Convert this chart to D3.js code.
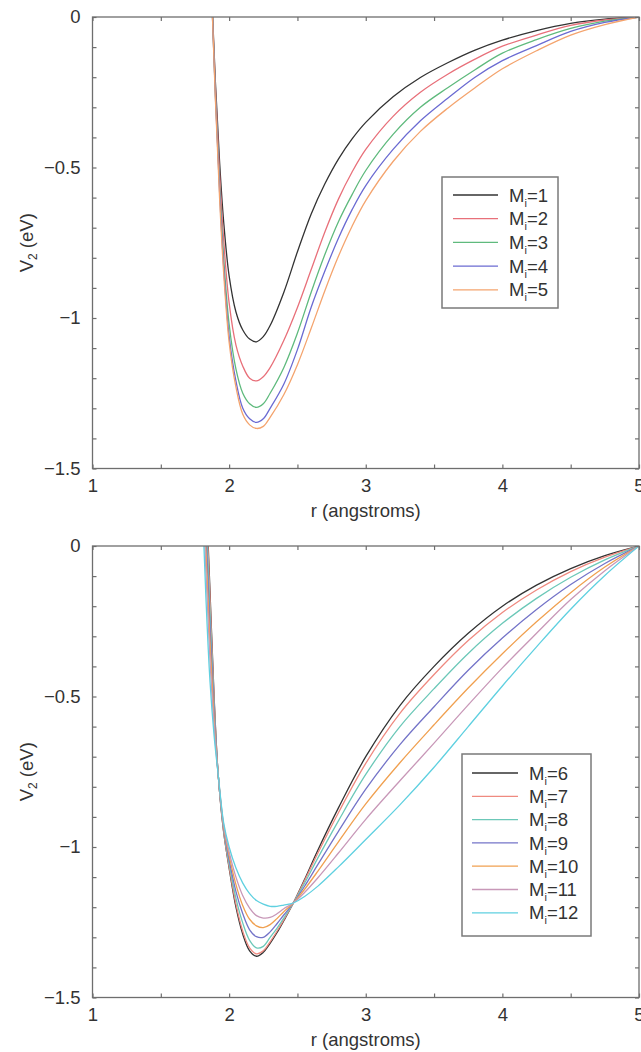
<!DOCTYPE html>
<html>
<head>
<meta charset="utf-8">
<script src="https://cdn.jsdelivr.net/npm/d3@7"></script>
<style>
  html, body { margin: 0; padding: 0; background: #fff; }
  svg { display: block; }
  text { font-family: "Liberation Sans", Arial, Helvetica, sans-serif; fill: #333; }
</style>
</head>
<body>
<div id="chart"></div>
<script>
// ---------------- DATA ----------------
const xTickValues = [1, 1.5, 2, 2.5, 3, 3.5, 4, 4.5, 5];
const xTickLabels = ["1", "", "2", "", "3", "", "4", "", "5"];
const yTickValues = [0, -0.1, -0.2, -0.3, -0.4, -0.5, -0.6, -0.7, -0.8, -0.9, -1, -1.1, -1.2, -1.3, -1.4, -1.5];
const yTickLabels = ["0", "", "", "", "", "\u22120.5", "", "", "", "", "\u22121", "", "", "", "", "\u22121.5"];
const xTitle = "r (angstroms)";

// top panel: r grid and V2 values (eV)
const rTop = [1.84, 1.87, 1.90, 1.93, 1.96, 2.00, 2.05, 2.10, 2.15, 2.20, 2.25, 2.30, 2.40, 2.50, 2.60, 2.70, 2.80, 2.90, 3.00, 3.20, 3.40, 3.60, 3.80, 4.00, 4.25, 4.50, 4.75, 5.00];
const vM1 = [0.5, 0.1, -0.22, -0.48, -0.68, -0.86, -0.98, -1.04, -1.07, -1.079, -1.062, -1.025, -0.915, -0.78, -0.655, -0.555, -0.472, -0.405, -0.35, -0.265, -0.201, -0.152, -0.110, -0.077, -0.045, -0.021, -0.007, 0];
const vM2 = [0.5, 0.1, -0.24, -0.52, -0.74, -0.95, -1.09, -1.16, -1.20, -1.209, -1.195, -1.165, -1.075, -0.965, -0.84, -0.715, -0.605, -0.515, -0.44, -0.33, -0.25, -0.19, -0.14, -0.097, -0.06, -0.028, -0.01, 0];
const vM3 = [0.5, 0.1, -0.26, -0.56, -0.80, -1.02, -1.17, -1.25, -1.285, -1.297, -1.285, -1.25, -1.165, -1.05, -0.915, -0.79, -0.68, -0.59, -0.51, -0.39, -0.30, -0.235, -0.175, -0.12, -0.075, -0.038, -0.014, 0];
const vM4 = [0.5, 0.1, -0.27, -0.58, -0.83, -1.06, -1.21, -1.30, -1.335, -1.347, -1.335, -1.30, -1.22, -1.105, -0.965, -0.845, -0.735, -0.64, -0.56, -0.44, -0.345, -0.27, -0.20, -0.145, -0.095, -0.048, -0.018, 0];
const vM5 = [0.5, 0.1, -0.28, -0.60, -0.85, -1.08, -1.23, -1.32, -1.355, -1.367, -1.36, -1.33, -1.255, -1.155, -1.035, -0.91, -0.795, -0.695, -0.61, -0.48, -0.38, -0.303, -0.235, -0.172, -0.112, -0.06, -0.025, 0];
const topLabels = ["1", "2", "3", "4", "5"];

// bottom panel
const rBot = [1.80, 1.83, 1.86, 1.89, 1.92, 1.96, 2.00, 2.05, 2.10, 2.15, 2.20, 2.25, 2.30, 2.35, 2.40, 2.47, 2.55, 2.65, 2.80, 3.00, 3.25, 3.50, 3.75, 4.00, 4.25, 4.50, 4.75, 5.00];
const vM6  = [0.6, 0.2, -0.15, -0.5, -0.76, -0.95, -1.07, -1.2, -1.29, -1.345, -1.363, -1.35, -1.32, -1.285, -1.245, -1.186, -1.11, -1.01, -0.87, -0.70, -0.53, -0.40, -0.29, -0.20, -0.13, -0.075, -0.032, 0];
const vM7  = [0.57, 0.17, -0.17, -0.51, -0.76, -0.95, -1.065, -1.19, -1.28, -1.335, -1.355, -1.345, -1.315, -1.28, -1.242, -1.186, -1.114, -1.02, -0.886, -0.722, -0.556, -0.427, -0.314, -0.221, -0.146, -0.085, -0.037, 0];
const vM8  = [0.51, 0.12, -0.22, -0.53, -0.76, -0.943, -1.055, -1.171, -1.253, -1.31, -1.335, -1.33, -1.30, -1.27, -1.236, -1.186, -1.122, -1.036, -0.913, -0.759, -0.60, -0.474, -0.357, -0.257, -0.174, -0.104, -0.046, 0];
const vM9  = [0.44, 0.05, -0.27, -0.55, -0.76, -0.938, -1.042, -1.148, -1.222, -1.275, -1.298, -1.30, -1.282, -1.255, -1.226, -1.186, -1.132, -1.058, -0.948, -0.808, -0.66, -0.534, -0.413, -0.306, -0.211, -0.128, -0.058, 0];
const vM10 = [0.37, -0.015, -0.32, -0.575, -0.76, -0.933, -1.029, -1.125, -1.195, -1.24, -1.262, -1.268, -1.258, -1.238, -1.215, -1.186, -1.142, -1.08, -0.983, -0.857, -0.72, -0.594, -0.472, -0.358, -0.252, -0.155, -0.07, 0];
const vM11 = [0.29, -0.085, -0.38, -0.60, -0.76, -0.927, -1.016, -1.10, -1.162, -1.203, -1.228, -1.236, -1.234, -1.222, -1.205, -1.186, -1.152, -1.102, -1.02, -0.908, -0.78, -0.655, -0.528, -0.405, -0.29, -0.178, -0.082, 0];
const vM12 = [0.2, -0.17, -0.45, -0.63, -0.76, -0.92, -1.0, -1.07, -1.12, -1.155, -1.178, -1.19, -1.197, -1.197, -1.193, -1.186, -1.165, -1.13, -1.066, -0.975, -0.86, -0.735, -0.60, -0.465, -0.335, -0.21, -0.098, 0];
const bottomLabels = ["6", "7", "8", "9", "10", "11", "12"];

// ---------------- STYLE ----------------
const topColors = ["#333333", "#e8707a", "#5fba7d", "#6b6bd2", "#f4a46e"];
const bottomColors = ["#333333", "#ef8a80", "#6cc8b8", "#7474c8", "#f0a050", "#c898b8", "#5fd0e0"];
const frameColor = "#6e6e6e";
const FS = 18.5;

const W = 641, H = 1052;
const svg = d3.select("#chart").append("svg").attr("width", W).attr("height", H);
svg.append("rect").attr("width", W).attr("height", H).attr("fill", "#fff");

const x = d3.scaleLinear().domain([1, 5]).range([92.5, 639]);

function panel(id, top, rVals, seriesVals, labels, colors, leg) {
  const bottom = top + 451.5;
  const y = d3.scaleLinear().domain([-1.5, 0]).range([bottom, top]);
  const g = svg.append("g");

  g.append("clipPath").attr("id", id).append("rect")
    .attr("x", x(1)).attr("y", top).attr("width", x(5) - x(1)).attr("height", bottom - top);

  const line = d3.line().x(d => x(d[0])).y(d => y(d[1])).curve(d3.curveCatmullRom.alpha(0.5));
  const lines = g.append("g").attr("clip-path", `url(#${id})`);
  seriesVals.forEach((vals, i) => {
    lines.append("path")
      .datum(rVals.map((r, k) => [r, vals[k]]))
      .attr("fill", "none").attr("stroke", colors[i]).attr("stroke-width", 1.3)
      .attr("d", line);
  });

  const styleAxis = sel => {
    sel.select(".domain").remove();
    sel.selectAll(".tick line").attr("stroke", frameColor).attr("stroke-width", 1.2);
    sel.selectAll(".tick text").attr("font-size", FS).attr("fill", "#333")
      .attr("font-family", '"Liberation Sans", Arial, sans-serif');
  };
  g.append("g").attr("transform", `translate(0,${bottom})`)
    .call(d3.axisBottom(x).tickValues(xTickValues).tickSize(-4).tickPadding(10)
      .tickFormat((d, i) => xTickLabels[i]))
    .call(styleAxis);
  g.append("g").attr("transform", `translate(0,${top})`)
    .call(d3.axisTop(x).tickValues(xTickValues).tickSize(-4).tickFormat(""))
    .call(styleAxis);
  g.append("g").attr("transform", `translate(${x(1)},0)`)
    .call(d3.axisLeft(y).tickValues(yTickValues).tickSize(-4).tickPadding(12)
      .tickFormat((d, i) => yTickLabels[i]))
    .call(styleAxis);
  g.append("g").attr("transform", `translate(${x(5)},0)`)
    .call(d3.axisRight(y).tickValues(yTickValues).tickSize(-4).tickFormat(""))
    .call(styleAxis);

  g.append("rect").attr("x", x(1)).attr("y", top).attr("width", x(5) - x(1)).attr("height", bottom - top)
    .attr("fill", "none").attr("stroke", frameColor).attr("stroke-width", 1.3);

  g.append("text").attr("x", (x(1) + x(5)) / 2).attr("y", bottom + 48)
    .attr("text-anchor", "middle").attr("font-size", FS).text(xTitle);
  const yt = g.append("text")
    .attr("transform", `translate(32.5,${(top + bottom) / 2}) rotate(-90)`)
    .attr("text-anchor", "middle").attr("font-size", FS);
  yt.append("tspan").text("V");
  yt.append("tspan").attr("font-size", 12).attr("dy", 4).text("2");
  yt.append("tspan").attr("dy", -4).text(" (eV)");

  const lg = g.append("g");
  lg.append("rect").attr("x", leg.x).attr("y", leg.y).attr("width", leg.w).attr("height", leg.h)
    .attr("fill", "#fff").attr("stroke", "#7a7a7a").attr("stroke-width", 1.5);
  labels.forEach((lab, i) => {
    const yy = leg.y0 + i * leg.step;
    lg.append("line").attr("x1", leg.lx1).attr("x2", leg.lx2).attr("y1", yy).attr("y2", yy)
      .attr("stroke", colors[i]).attr("stroke-width", 1.3);
    const t = lg.append("text").attr("x", leg.tx).attr("y", yy).attr("dy", "0.36em").attr("font-size", FS);
    t.append("tspan").text("M");
    t.append("tspan").attr("font-size", 11).attr("dy", 5).text("i");
    t.append("tspan").attr("dy", -5).text("=" + lab);
  });
}

panel("clipTop", 17, rTop, [vM1, vM2, vM3, vM4, vM5], topLabels, topColors,
  { x: 442, y: 177, w: 116, h: 131, y0: 195, step: 23.7, lx1: 453, lx2: 498, tx: 509 });
panel("clipBot", 546, rBot, [vM6, vM7, vM8, vM9, vM10, vM11, vM12], bottomLabels, bottomColors,
  { x: 462, y: 754, w: 129, h: 182, y0: 773, step: 23.3, lx1: 472, lx2: 518, tx: 529 });
</script>
</body>
</html>
